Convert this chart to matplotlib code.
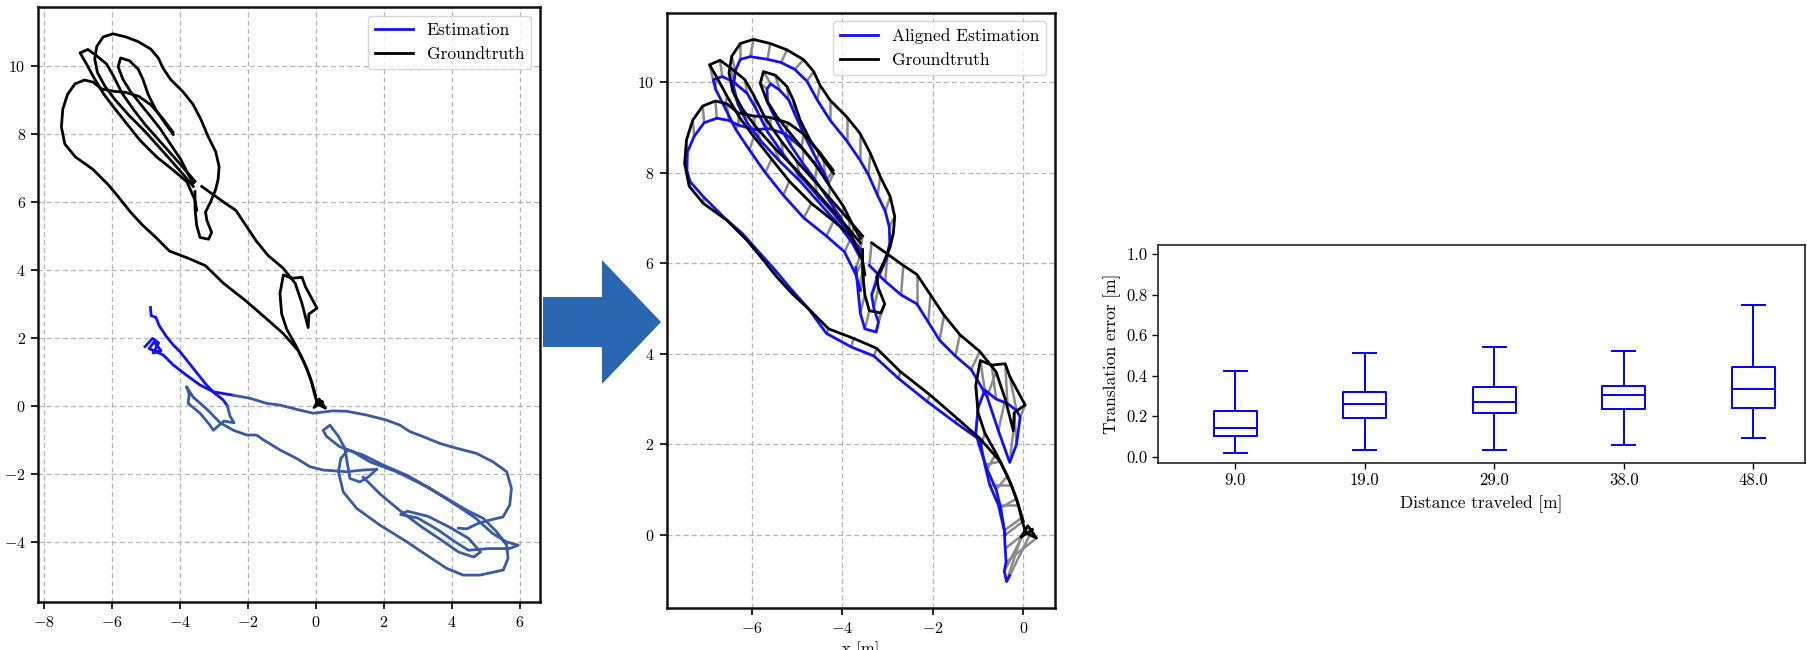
import numpy as np
import matplotlib
matplotlib.use("Agg")
import matplotlib.pyplot as plt
from matplotlib.patches import Polygon
from matplotlib.collections import LineCollection

plt.rcParams['font.family'] = 'serif'
plt.rcParams['font.serif'] = ['cmr10']
plt.rcParams['mathtext.fontset'] = 'cm'
plt.rcParams['axes.formatter.use_mathtext'] = True

# ---- groundtruth trajectory, traced in pieces (x, y in metres)
gt_seg1 = [(-4.20, 8.05), (-4.50, 8.45), (-4.85, 8.85), (-5.20, 9.10), (-5.60, 9.22), (-5.95, 9.25),
           (-6.30, 9.32), (-6.55, 9.52), (-6.80, 9.58), (-7.08, 9.47), (-7.30, 9.16), (-7.44, 8.72),
           (-7.48, 8.20), (-7.38, 7.70), (-7.07, 7.32), (-6.55, 6.95), (-6.10, 6.50), (-5.80, 6.14),
           (-5.45, 5.70), (-5.10, 5.32), (-4.70, 4.95), (-4.30, 4.55), (-3.75, 4.34), (-3.24, 4.12),
           (-2.72, 3.61), (-2.06, 3.09), (-1.47, 2.58), (-0.96, 2.13), (-0.51, 1.62), (-0.26, 1.10),
           (-0.11, 0.66), (-0.04, 0.37), (0.05, 0.05), (0.29, -0.07), (0.10, 0.20), (-0.05, -0.05),
           (0.20, 0.12)]
gt_seg2 = [(0.00, 0.30), (-0.15, 0.80), (-0.35, 1.30), (-0.60, 1.80), (-0.85, 2.25), (-1.00, 2.70),
           (-1.05, 3.30), (-0.95, 3.85), (-0.70, 3.75), (-0.40, 3.78), (-0.30, 3.50), (0.04, 2.87),
           (-0.20, 2.70), (-0.22, 2.30), (-0.40, 3.00), (-0.60, 3.60), (-0.96, 4.05), (-1.40, 4.42),
           (-1.75, 4.85), (-2.05, 5.30), (-2.35, 5.75), (-2.65, 5.95), (-3.00, 6.20), (-3.35, 6.45)]
gt_seg3 = [(-3.55, 6.30), (-3.55, 5.80), (-3.50, 5.30), (-3.40, 4.95), (-3.15, 4.90), (-3.06, 5.10),
           (-3.20, 5.45), (-3.24, 5.70), (-3.09, 6.00), (-2.94, 6.37), (-2.87, 6.66), (-2.84, 7.03),
           (-2.94, 7.47), (-3.16, 7.91), (-3.38, 8.43), (-3.61, 8.87), (-3.90, 9.23), (-4.27, 9.60),
           (-4.49, 9.93), (-4.63, 10.23), (-4.85, 10.49), (-5.22, 10.71), (-5.59, 10.85), (-5.96, 10.94),
           (-6.25, 10.85), (-6.44, 10.57), (-6.50, 10.20), (-6.42, 9.80), (-6.20, 9.40), (-5.90, 9.00),
           (-5.50, 8.55), (-5.05, 8.10), (-4.60, 7.60), (-4.20, 7.15), (-3.85, 6.75), (-3.60, 6.45)]
gt_seg4 = [(-3.60, 6.55), (-3.75, 6.81), (-3.97, 7.25), (-4.27, 7.69), (-4.56, 8.13), (-4.85, 8.50),
           (-5.15, 8.87), (-5.44, 9.23), (-5.67, 9.60), (-5.81, 9.97), (-5.74, 10.23), (-5.48, 10.15),
           (-5.22, 9.90), (-5.08, 9.60), (-4.93, 9.16), (-4.71, 8.72), (-4.41, 8.28), (-4.19, 7.98)]
gt_seg5 = [(-3.50, 5.75), (-3.55, 6.05), (-3.79, 6.59), (-4.19, 6.93), (-4.68, 7.32), (-5.17, 7.81),
           (-5.56, 8.30), (-5.95, 8.79), (-6.25, 9.19), (-6.54, 9.68), (-6.78, 10.12), (-6.93, 10.38),
           (-6.70, 10.48), (-6.45, 10.30), (-6.15, 10.05), (-5.95, 9.70), (-5.70, 9.20), (-5.35, 8.70),
           (-5.00, 8.25), (-4.60, 7.80), (-4.20, 7.35), (-3.85, 6.95), (-3.55, 6.60)]

# ---- aligned estimation, point for point with the groundtruth pieces
ae_seg1 = [(-4.34, 7.84), (-4.60, 8.20), (-4.90, 8.55), (-5.25, 8.85), (-5.60, 8.97), (-5.95, 8.95),
           (-6.30, 9.05), (-6.50, 9.15), (-6.77, 9.20), (-7.05, 9.10), (-7.27, 8.80), (-7.42, 8.45),
           (-7.43, 8.05), (-7.36, 7.80), (-7.07, 7.47), (-6.60, 7.00), (-6.20, 6.65), (-5.88, 6.29),
           (-5.51, 5.88), (-5.15, 5.45), (-4.75, 5.00), (-4.35, 4.45), (-3.80, 4.15), (-3.30, 3.95),
           (-2.75, 3.45), (-2.13, 2.95), (-1.50, 2.48), (-0.96, 2.10), (-0.85, 1.55), (-0.74, 1.10),
           (-0.55, 0.66), (-0.42, 0.10), (-0.40, -0.30), (-0.38, -0.60), (-0.42, -0.80), (-0.37, -1.03),
           (-0.30, -0.90)]
ae_seg2 = [(-0.40, 0.00), (-0.50, 0.60), (-0.60, 1.00), (-0.80, 1.45), (-0.95, 1.90), (-1.05, 2.25),
           (-1.00, 2.80), (-0.85, 3.20), (-0.60, 3.00), (-0.35, 2.90), (-0.15, 2.75), (-0.07, 2.60),
           (-0.15, 2.00), (-0.30, 1.60), (-0.55, 2.30), (-0.80, 3.05), (-1.15, 3.65), (-1.50, 3.95),
           (-1.85, 4.30), (-2.10, 4.70), (-2.35, 5.10), (-2.70, 5.30), (-3.05, 5.60), (-3.40, 5.95)]
ae_seg3 = [(-3.70, 5.90), (-3.65, 5.40), (-3.60, 4.90), (-3.50, 4.55), (-3.25, 4.48), (-3.20, 4.70),
           (-3.30, 5.00), (-3.35, 5.30), (-3.20, 5.70), (-3.02, 6.10), (-2.95, 6.45), (-2.96, 6.80),
           (-3.05, 7.15), (-3.22, 7.50), (-3.42, 7.95), (-3.61, 8.28), (-3.90, 8.70), (-4.27, 9.16),
           (-4.55, 9.60), (-4.78, 10.02), (-5.05, 10.28), (-5.35, 10.43), (-5.65, 10.50), (-6.03, 10.56),
           (-6.25, 10.50), (-6.36, 10.25), (-6.40, 9.90), (-6.30, 9.50), (-6.10, 9.10), (-5.80, 8.70),
           (-5.38, 8.25), (-4.92, 7.80), (-4.48, 7.30), (-4.08, 6.85), (-3.78, 6.45), (-3.62, 6.15)]
ae_seg4 = [(-3.62, 6.25), (-3.80, 6.55), (-4.02, 6.98), (-4.30, 7.40), (-4.60, 7.84), (-4.88, 8.22),
           (-5.15, 8.62), (-5.44, 9.12), (-5.65, 9.55), (-5.66, 9.85), (-5.58, 9.96), (-5.38, 9.82),
           (-5.18, 9.60), (-5.05, 9.30), (-4.85, 8.85), (-4.62, 8.40), (-4.38, 7.95), (-4.30, 7.75)]
ae_seg5 = [(-3.60, 5.40), (-3.70, 5.75), (-3.95, 6.25), (-4.35, 6.60), (-4.85, 7.00), (-5.30, 7.50),
           (-5.70, 8.00), (-6.05, 8.50), (-6.35, 8.95), (-6.60, 9.45), (-6.80, 9.85), (-6.85, 10.05),
           (-6.65, 10.12), (-6.40, 10.00), (-6.10, 9.75), (-5.90, 9.40), (-5.65, 8.90), (-5.30, 8.40),
           (-4.95, 7.95), (-4.55, 7.50), (-4.15, 7.05), (-3.85, 6.65), (-3.60, 6.30)]

gt_segments = [gt_seg1, gt_seg2, gt_seg3, gt_seg4, gt_seg5]
ae_segments = [ae_seg1, ae_seg2, ae_seg3, ae_seg4, ae_seg5]

# ---- raw estimation (left panel)
est_bright = [
    [(-4.86, 2.89), (-4.84, 2.65), (-4.70, 2.60), (-4.60, 2.35), (-4.40, 2.05), (-4.20, 1.80),
     (-3.99, 1.59), (-3.60, 1.10), (-3.21, 0.61), (-2.96, 0.36), (-2.72, 0.17), (-2.60, 0.00)],
    [(-5.02, 1.74), (-4.80, 1.98), (-4.62, 1.85), (-4.78, 1.55), (-4.55, 1.62), (-4.75, 1.88),
     (-4.90, 1.68), (-4.70, 1.60), (-4.48, 1.49), (-4.19, 1.20), (-3.80, 0.90), (-3.40, 0.61),
     (-3.01, 0.41), (-2.42, 0.31)],
]
est_dark = [
    [(-2.42, 0.31), (-1.93, 0.22), (-1.44, 0.07), (-1.05, 0.02), (-0.46, -0.13), (-0.07, -0.22),
     (0.50, -0.15), (0.91, -0.16), (1.49, -0.27), (2.08, -0.42), (2.48, -0.57), (2.77, -0.76),
     (3.17, -0.91), (3.66, -1.11), (4.15, -1.25), (4.73, -1.40), (5.22, -1.65), (5.62, -1.94),
     (5.76, -2.43), (5.71, -2.92), (5.51, -3.27), (5.13, -3.36), (4.80, -3.45), (4.45, -3.62),
     (4.20, -3.60)],
    [(-2.60, 0.00), (-2.52, -0.30), (-2.40, -0.50), (-2.70, -0.45), (-3.01, -0.72), (-3.11, -0.57),
     (-3.40, -0.22), (-3.75, 0.07), (-3.72, 0.35), (-3.80, 0.56), (-3.60, 0.25), (-3.20, -0.10),
     (-2.81, -0.50), (-2.42, -0.72), (-2.03, -0.86), (-1.74, -0.86), (-1.54, -1.00), (-1.05, -1.30),
     (-0.56, -1.55), (-0.17, -1.79), (0.22, -1.89), (0.91, -1.94), (1.40, -1.89), (1.79, -1.87)],
    [(1.79, -1.87), (1.55, -2.09), (1.30, -2.24), (1.01, -2.14), (0.95, -1.80), (0.86, -1.25),
     (0.67, -0.90), (0.42, -0.57), (0.22, -0.72), (0.32, -0.90), (0.70, -1.20), (1.10, -1.35),
     (1.60, -1.65), (2.38, -1.94), (3.17, -2.33), (3.85, -2.72), (4.44, -3.07), (4.93, -3.31),
     (5.32, -3.70), (5.62, -4.10), (5.66, -4.49), (5.52, -4.83), (4.83, -4.98), (4.34, -4.98),
     (3.85, -4.78), (3.26, -4.39), (2.68, -4.00), (1.89, -3.51), (1.21, -3.02), (0.81, -2.53),
     (0.67, -1.94), (0.74, -1.55), (0.95, -1.30), (1.40, -1.45), (2.00, -1.75), (2.70, -2.05),
     (3.40, -2.45), (4.10, -2.90), (4.70, -3.30), (5.20, -3.75), (5.60, -4.00), (5.96, -4.10),
     (5.70, -4.20), (5.10, -4.20), (4.50, -4.25), (4.10, -4.00), (3.60, -3.65), (3.00, -3.30),
     (2.50, -3.20), (2.70, -3.10), (3.30, -3.25), (3.90, -3.55), (4.50, -3.90), (4.85, -4.30),
     (4.65, -4.45), (4.20, -4.30), (3.70, -3.95), (3.10, -3.55), (2.50, -3.10), (1.90, -2.60),
     (1.40, -2.10)],
]

# ---- relative pose error box plot
dist_labels = ["9.0", "19.0", "29.0", "38.0", "48.0"]
err_whislo = [0.020, 0.031, 0.031, 0.056, 0.092]
err_q1 = [0.104, 0.189, 0.215, 0.234, 0.238]
err_med = [0.141, 0.260, 0.271, 0.303, 0.332]
err_q3 = [0.227, 0.319, 0.345, 0.350, 0.442]
err_whishi = [0.424, 0.510, 0.541, 0.523, 0.750]

W, H = 1808, 650
fig = plt.figure(figsize=(W / 100, H / 100), dpi=100)

BLUE = '#1010ff'
DARK_BLUE = '#3a5aa8'
LW = 2.0


def style_traj_axes(ax):
    ax.grid(True, color='#b4b4b4', linestyle=(0, (4, 2.5)), linewidth=0.9)
    ax.set_axisbelow(True)
    for s in ax.spines.values():
        s.set_linewidth(1.8)
        s.set_color('#111111')
    ax.tick_params(labelsize=11.5, length=5, width=1.2, pad=4)


# left panel: raw estimation vs groundtruth
ax1 = fig.add_axes([38.3 / W, 1 - 602.3 / H, 501.7 / W, 595 / H])
first = True
for seg in est_bright:
    p = np.array(seg)
    ax1.plot(p[:, 0], p[:, 1], color=BLUE, lw=LW, label='Estimation' if first else None)
    first = False
for seg in est_dark:
    p = np.array(seg)
    ax1.plot(p[:, 0], p[:, 1], color=DARK_BLUE, lw=LW)
first = True
for seg in gt_segments:
    p = np.array(seg)
    ax1.plot(p[:, 0], p[:, 1], color='black', lw=LW, label='Groundtruth' if first else None)
    first = False
ax1.set_xlim(-8.16, 6.60)
ax1.set_ylim(-5.78, 11.72)
ax1.set_xticks(np.arange(-8, 7, 2))
ax1.set_yticks(np.arange(-4, 11, 2))
style_traj_axes(ax1)
ax1.legend(loc='upper right', fontsize=12.5, handlelength=2.2, edgecolor='#cccccc')

# middle panel: aligned estimation vs groundtruth
ax2 = fig.add_axes([667 / W, 1 - 608.3 / H, 388 / W, 595.6 / H])
pairs = []
for g, a in zip(gt_segments, ae_segments):
    for pg, pa in zip(g, a):
        pairs.append([pg, pa])
ax2.add_collection(LineCollection(pairs, colors='#8a8a8a', linewidths=1.8, zorder=2))
first = True
for seg in ae_segments:
    p = np.array(seg)
    ax2.plot(p[:, 0], p[:, 1], color=BLUE, lw=LW, zorder=3,
             label='Aligned Estimation' if first else None)
    first = False
first = True
for seg in gt_segments:
    p = np.array(seg)
    ax2.plot(p[:, 0], p[:, 1], color='black', lw=LW, zorder=3,
             label='Groundtruth' if first else None)
    first = False
ax2.set_xlim(-7.87, 0.70)
ax2.set_ylim(-1.62, 11.53)
ax2.set_xticks([-6, -4, -2, 0])
ax2.set_yticks(np.arange(0, 11, 2))
style_traj_axes(ax2)
ax2.set_xlabel('x [m]', fontsize=12)
ax2.legend(loc='upper right', fontsize=12.5, handlelength=2.2, edgecolor='#cccccc')

# arrow between the panels
ac = 322.0
arrow_px = [(543, ac - 25), (602, ac - 25), (602, ac - 62), (661, ac), (602, ac + 62),
            (602, ac + 25), (543, ac + 25)]
fig.patches.append(Polygon([(x / W, 1 - y / H) for x, y in arrow_px], closed=True,
                           transform=fig.transFigure, facecolor='#2b67b0', edgecolor='none'))

# right panel: box plot of translation error
ax3 = fig.add_axes([1158.3 / W, 1 - 462.7 / H, 646.7 / W, 218 / H])
stats = []
for i in range(len(dist_labels)):
    stats.append(dict(med=err_med[i], q1=err_q1[i], q3=err_q3[i],
                      whislo=err_whislo[i], whishi=err_whishi[i], fliers=[]))
positions = np.arange(1, len(dist_labels) + 1)
lp = dict(color='blue', linewidth=1.4)
ax3.bxp(stats, positions=positions, widths=0.33, capwidths=0.18, showfliers=False,
        boxprops=lp, whiskerprops=lp, capprops=lp, medianprops=lp)
ax3.set_xticks(positions)
ax3.set_xticklabels(dist_labels)
ax3.set_xlim(0.405, 5.40)
ax3.set_ylim(-0.03, 1.046)
ax3.set_yticks(np.arange(0, 1.01, 0.2))
ax3.yaxis.set_major_formatter(plt.FormatStrFormatter('%.1f'))
for s in ax3.spines.values():
    s.set_linewidth(1.2)
    s.set_color('#222222')
ax3.tick_params(labelsize=12, length=4.5, width=1.0, pad=3)
ax3.set_xlabel('Distance traveled [m]', fontsize=12.5, labelpad=5)
ax3.set_ylabel('Translation error [m]', fontsize=12.5, labelpad=4)

fig.savefig('out.png', dpi=100)
